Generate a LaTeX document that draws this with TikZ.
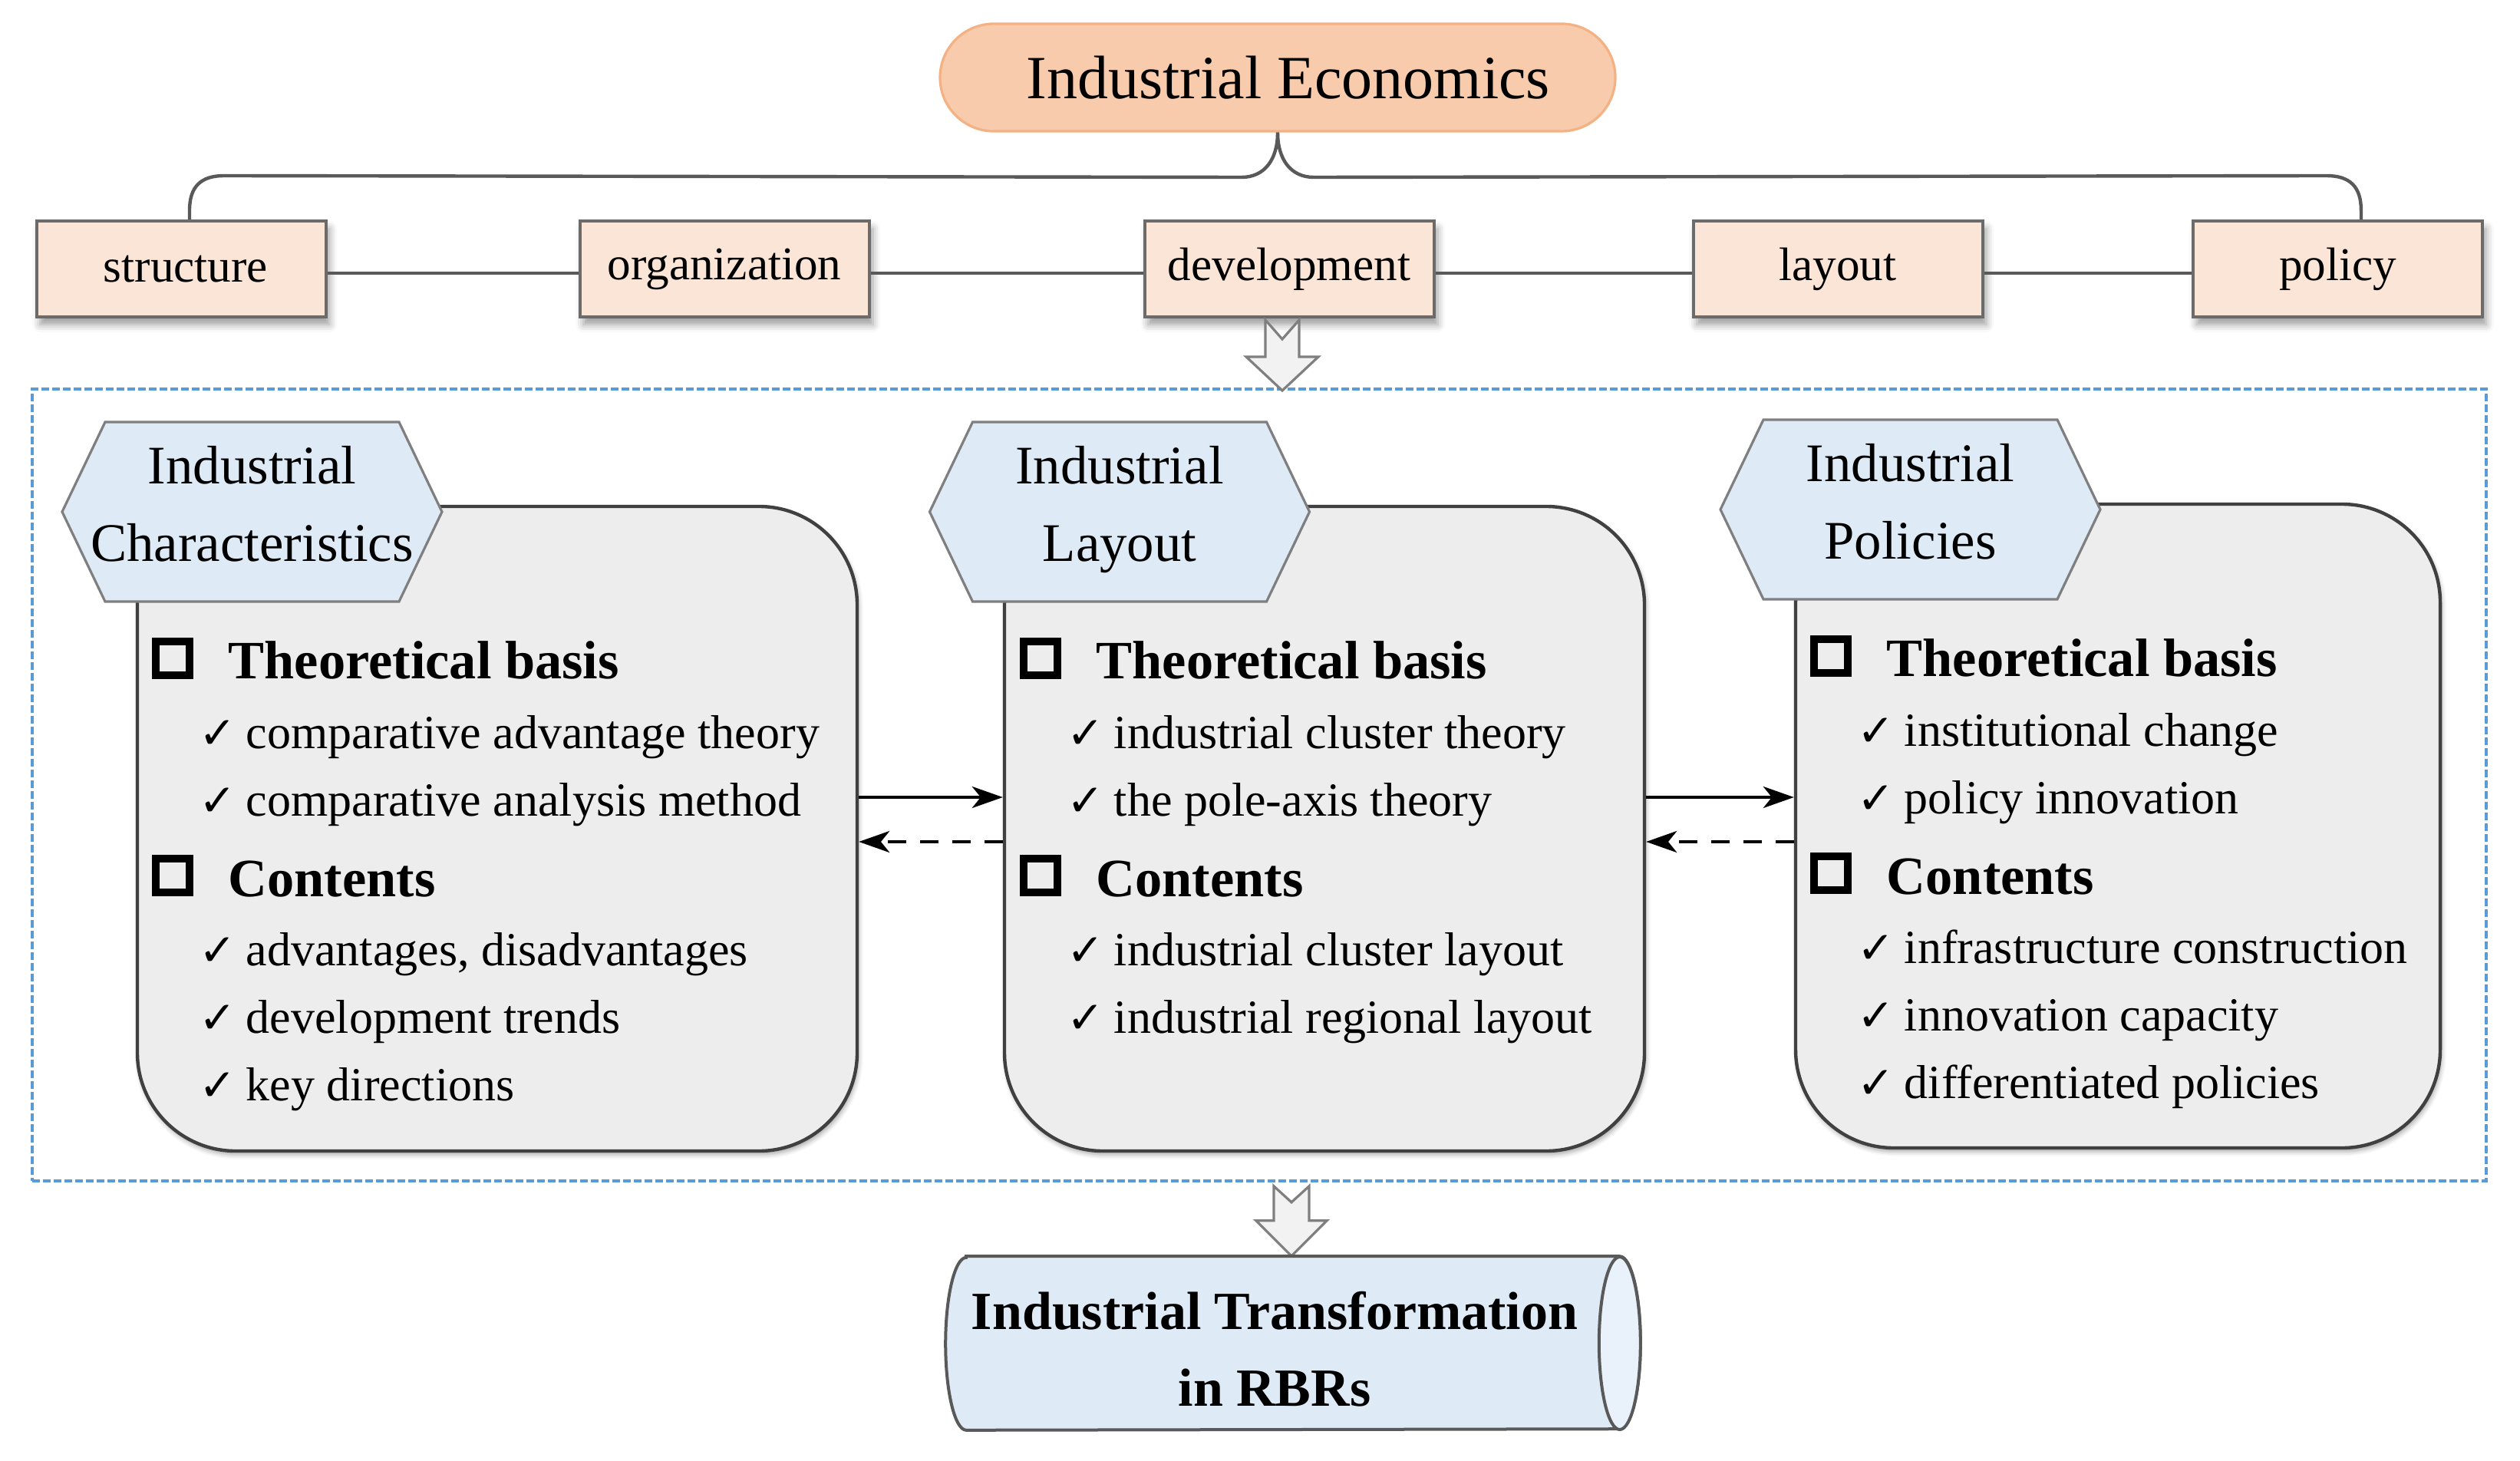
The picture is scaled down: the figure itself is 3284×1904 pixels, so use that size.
\documentclass[tikz,border=0pt]{standalone}
\usepackage{fontspec}
\setmainfont{Liberation Serif}
\newfontfamily\symfont{DejaVu Sans}
\usetikzlibrary{shapes.geometric,shapes.misc,shadows.blur,arrows.meta,calc}
\definecolor{iefill}{HTML}{F8CBAD}
\definecolor{ieborder}{HTML}{F4B183}
\definecolor{boxfill}{HTML}{FBE5D6}
\definecolor{boxborder}{HTML}{6B6B6B}
\definecolor{connc}{HTML}{595959}
\definecolor{frameblue}{HTML}{5B9BD5}
\definecolor{panelfill}{HTML}{EDEDED}
\definecolor{panelborder}{HTML}{404040}
\definecolor{hexfill}{HTML}{DEEBF7}
\definecolor{hexborder}{HTML}{7F7F7F}
\definecolor{arrowfill}{HTML}{F2F2F2}
\definecolor{arrowborder}{HTML}{7F7F7F}
\definecolor{cylfill}{HTML}{DEEBF7}
\definecolor{cylend}{HTML}{E9F1FA}
\definecolor{cylborder}{HTML}{595959}
\newcommand\ck{\makebox[15.25pt][l]{\symfont\fontsize{14.5pt}{16pt}\selectfont ✓}}
\begin{document}
\begin{tikzpicture}[x=0.25pt,y=-0.25pt,
  ie/.style={rounded rectangle, draw=ieborder, fill=iefill, line width=0.8pt,
    minimum width=220pt, minimum height=35pt, inner sep=0pt,
    font=\fontsize{20pt}{24pt}\selectfont},
  topbox/.style={draw=boxborder, fill=boxfill, line width=1pt,
    minimum width=94.25pt, minimum height=31.25pt, inner sep=0pt,
    font=\fontsize{15.3pt}{18pt}\selectfont,
    blur shadow={shadow xshift=1.2pt, shadow yshift=-2.5pt, shadow blur radius=2.5pt, shadow opacity=40}},
  conn/.style={draw=connc, line width=1.1pt},
  framebox/.style={draw=frameblue, line width=0.9pt, dash pattern=on 2.5pt off 1pt,
    minimum width=799.5pt, minimum height=258pt, inner sep=0pt},
  panel/.style={draw=panelborder, fill=panelfill, line width=1.1pt, rounded corners=32pt,
    inner sep=0pt,
    blur shadow={shadow xshift=0.5pt, shadow yshift=-1.2pt, shadow blur radius=1.5pt, shadow opacity=35}},
  hexshape/.style={draw=hexborder, fill=hexfill, line width=0.8pt},
  hextxt/.style={anchor=base, inner sep=0pt, font=\fontsize{17.7pt}{21pt}\selectfont},
  hdr/.style={anchor=base west, inner sep=0pt, font=\fontsize{17.6pt}{21pt}\selectfont\bfseries},
  itm/.style={anchor=base west, inner sep=0pt, font=\fontsize{15.5pt}{18pt}\selectfont},
  sqb/.style={draw=black, line width=2.5pt, minimum size=11pt, inner sep=0pt},
  linkarrow/.style={draw=black, line width=1pt, -{Stealth[length=10pt,width=7pt,inset=2.8pt]}},
  dashlink/.style={linkarrow, dash pattern=on 6pt off 4.5pt},
  blockarrow/.style={draw=arrowborder, fill=arrowfill, line width=0.8pt, line join=miter},
  cylbody/.style={draw=cylborder, fill=cylfill, line width=1pt},
  cylcap/.style={draw=cylborder, fill=cylend, line width=1pt},
  cylarea/.style={draw=none, minimum width=226pt, minimum height=56.25pt, inner sep=0pt},
  cyltxt/.style={anchor=base, inner sep=0pt, font=\fontsize{17.5pt}{21pt}\selectfont\bfseries}
]
\useasboundingbox (0,0) rectangle (3284,1904);

% ---------- top ----------
\node[ie] (ie) at (1665,101) {\hspace*{7pt}Industrial Economics};
\node[topbox] (st) at (236,350.5) {\hspace*{3pt}structure};
\node[topbox] (or) at (944,350.5) {organization};
\node[topbox] (dv) at (1680,350.5) {development};
\node[topbox] (la) at (2395,350.5) {layout};
\node[topbox] (po) at (3046.5,350.5) {policy};

\coordinate (bl) at (1618,231);
\coordinate (br) at (1712,231);
\draw[conn] ([xshift=2.75pt]st.north) -- ++(0,-12) .. controls +(0,-31) and +(-30,0) .. ++(45,-45)
  -- (bl) .. controls +(30,0) and +(0,35) .. (ie.south);
\draw[conn] ([xshift=7.6pt]po.north) -- ++(0,-12) .. controls +(0,-31) and +(30,0) .. ++(-45,-45)
  -- (br) .. controls +(-30,0) and +(0,35) .. (ie.south);

\draw[conn] ([yshift=-1.4pt]st.east) -- ([yshift=-1.4pt]or.west);
\draw[conn] ([yshift=-1.4pt]or.east) -- ([yshift=-1.4pt]dv.west);
\draw[conn] ([yshift=-1.4pt]dv.east) -- ([yshift=-1.4pt]la.west);
\draw[conn] ([yshift=-1.4pt]la.east) -- ([yshift=-1.4pt]po.west);

% ---------- frame ----------
\node[framebox] (fr) at (1641,1023) {};

\draw[blockarrow] ([shift={(-2.25pt,-0.5pt)}]dv.south) ++(-22,0) -- ++(22,25) -- ++(22,-25)
  -- ++(0,48) -- ++(25,0) -- ++(-47,44) -- ++(-47,-44) -- ++(25,0) -- cycle;

% ---------- panels ----------
\node[panel, minimum width=234.5pt, minimum height=210pt] (P1) at (648,1080) {};
\node[panel, minimum width=208.5pt, minimum height=210pt] (P2) at (1726,1080) {};
\node[panel, minimum width=210pt, minimum height=209.75pt] (P3) at (2760,1076.5) {};

\draw[hexshape] (328.5-247.5,667) -- (328.5-191.5,550) -- (328.5+191.5,550) -- (328.5+247.5,667)
  -- (328.5+191.5,784) -- (328.5-191.5,784) -- cycle;
\draw[hexshape] (1459-247.5,667) -- (1459-191.5,550) -- (1459+191.5,550) -- (1459+247.5,667)
  -- (1459+191.5,784) -- (1459-191.5,784) -- cycle;
\draw[hexshape] (2489.5-247.5,664) -- (2489.5-191.5,547) -- (2489.5+191.5,547) -- (2489.5+247.5,664)
  -- (2489.5+191.5,781) -- (2489.5-191.5,781) -- cycle;

\node[hextxt] (h1a) at (328.5,630) {Industrial};
\node[hextxt] (h1b) at (328.5,731) {Characteristics};
\node[hextxt] (h2a) at (1459,630) {Industrial};
\node[hextxt] (h2b) at (1459,731) {Layout};
\node[hextxt] (h3a) at (2489.5,627) {Industrial};
\node[hextxt] (h3b) at (2489.5,728) {Policies};

% panel 1 content
\node[sqb] (s11) at (225,857.5) {};
\node[hdr] (t11) at (297,884) {Theoretical basis};
\node[itm] (i11) at (259,975) {\ck comparative advantage theory};
\node[itm] (i12) at (259,1063) {\ck comparative analysis method};
\node[sqb] (s12) at (225,1141) {};
\node[hdr] (t12) at (297,1168) {Contents};
\node[itm] (i13) at (259,1258) {\ck advantages, disadvantages};
\node[itm] (i14) at (259,1346) {\ck development trends};
\node[itm] (i15) at (259,1434) {\ck key directions};

% panel 2 content
\node[sqb] (s21) at (1356,857.5) {};
\node[hdr] (t21) at (1428,884) {Theoretical basis};
\node[itm] (i21) at (1390,975) {\ck industrial cluster theory};
\node[itm] (i22) at (1390,1063) {\ck the pole-axis theory};
\node[sqb] (s22) at (1356,1141) {};
\node[hdr] (t22) at (1428,1168) {Contents};
\node[itm] (i23) at (1390,1258) {\ck industrial cluster layout};
\node[itm] (i24) at (1390,1346) {\ck industrial regional layout};

% panel 3 content
\node[sqb] (s31) at (2386,854.5) {};
\node[hdr] (t31) at (2458,881) {Theoretical basis};
\node[itm] (i31) at (2420,972) {\ck institutional change};
\node[itm] (i32) at (2420,1060) {\ck policy innovation};
\node[sqb] (s32) at (2386,1138) {};
\node[hdr] (t32) at (2458,1165) {Contents};
\node[itm] (i33) at (2420,1255) {\ck infrastructure construction};
\node[itm] (i34) at (2420,1343) {\ck innovation capacity};
\node[itm] (i35) at (2420,1431) {\ck differentiated policies};

% panel links
\draw[linkarrow] ([yshift=10.25pt]P1.east) -- ([yshift=10.25pt]P1.east -| P2.west);
\draw[dashlink] ([yshift=-4.25pt]P2.west) -- ([yshift=-4.25pt]P2.west -| P1.east);
\draw[linkarrow] ([yshift=10.25pt]P2.east) -- ([yshift=10.25pt]P2.east -| P3.west);
\draw[dashlink] ([yshift=-4.25pt]P2.east -| P3.west) -- ([yshift=-4.25pt]P2.east);

% ---------- bottom ----------
\node[cylarea] (cy) at (1685,1750.5) {};
\draw[blockarrow] ([shift={(10.5pt,-1.25pt)}]fr.south) ++(-23,0) -- ++(23,21) -- ++(23,-21)
  -- ++(0,45) -- ++(23,0) -- ++(-46,46) -- ++(-46,-46) -- ++(23,0) -- cycle;

\draw[cylbody] ([xshift=6.75pt]cy.north west) -- ([xshift=-6.75pt]cy.north east)
  arc[start angle=-90, end angle=90, x radius=27, y radius=112.5]
  -- ([xshift=6.75pt]cy.south west)
  arc[start angle=90, end angle=270, x radius=27, y radius=112.5] -- cycle;
\draw[cylcap] ([xshift=-6.75pt]cy.east) ellipse[x radius=27, y radius=112.5];

\node[cyltxt] (c1) at (1661,1732) {Industrial Transformation};
\node[cyltxt] (c2) at (1661,1832) {in RBRs};
\end{tikzpicture}
\end{document}
